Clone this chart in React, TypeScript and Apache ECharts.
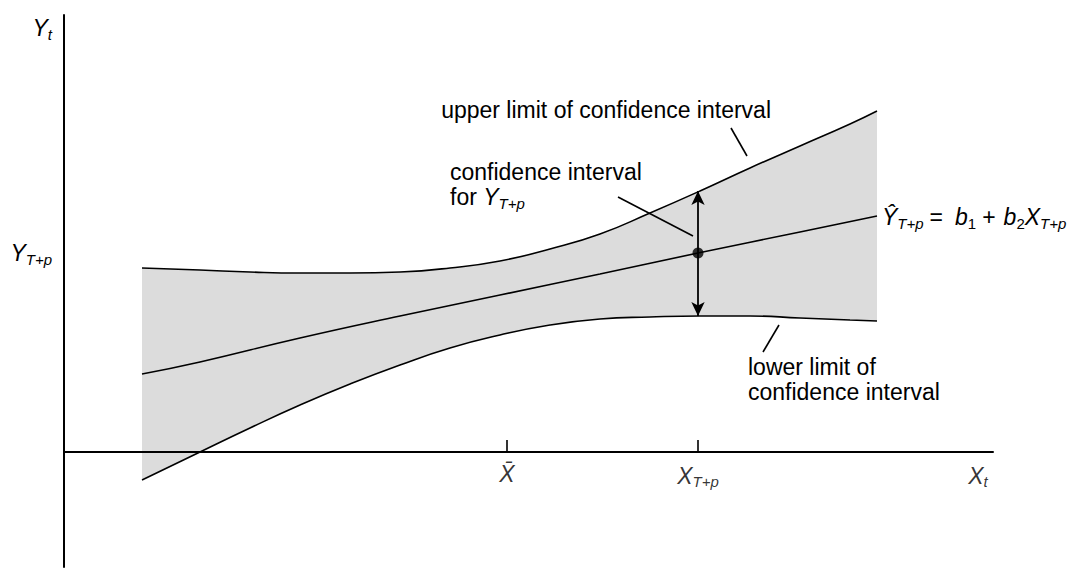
import React, { useEffect, useRef } from "react";
import * as echarts from "echarts";

// Curve values (x, y)
const bandX = [78, 136, 186, 236, 286, 336, 386, 436, 486, 536, 586, 636, 686, 736, 786, 813];
const upperY = [184, 182, 180, 179, 179, 180, 184, 191, 203, 218, 239, 261, 284, 306, 328, 341];
const lowerY = [-28, 0, 24, 47, 68, 87, 104, 117, 127, 133, 135, 136, 136, 134, 132, 131];
const centerX = [78, 136, 236, 336, 436, 536, 634, 736, 813];
const centerY = [78, 90, 114, 136, 157, 178, 199, 220, 236];

const forecastPoint = [634, 199];
const intervalTop = 261;
const intervalBottom = 136;

const xTickValues = [443, 634];
const xLabelValues = [443, 634, 914];
const xLabelTexts = ["{v|X̄}", "{v|X}{s|T+p}", "{v|X}{s|t}"];
const yLabelValues = [199, 424];
const yLabelTexts = ["{v|Y}{s|T+p}", "{v|Y}{s|t}"];

const pointerUpper = [[667, 324], [683, 296]];
const pointerInterval = [[554, 255], [629, 216]];
const pointerLower = [[715, 127], [699, 100]];

const FONT = '"Liberation Sans", Arial, Helvetica, sans-serif';
const FS = 23;
const SUB = 15;

const richStyles = {
  v: { fontFamily: FONT, fontStyle: "italic", fontSize: FS, color: "#000" },
  s: { fontFamily: FONT, fontStyle: "italic", fontSize: SUB, color: "#000", padding: [12, 0, 0, 0] },
  sn: { fontFamily: FONT, fontSize: SUB, color: "#000", padding: [12, 0, 0, 0] },
  n: { fontFamily: FONT, fontSize: FS, color: "#000" },
  eq: { fontFamily: FONT, fontSize: FS, color: "#000", padding: [0, 12, 0, 6] },
  pl: { fontFamily: FONT, fontSize: FS, color: "#000", padding: [0, 8, 0, 6] },
};

export default function App() {
  const ref = useRef<HTMLDivElement>(null);
  useEffect(() => {
    if (!ref.current) return;
    const chart = echarts.init(ref.current, null, { renderer: "svg" });
    const pairs = (xs: number[], ys: number[]) => xs.map((x, i) => [x, ys[i]]);
    const blackLine = { color: "#000", width: 1.6 };
    const textEl = (x: number, y: number, style: any) => ({
      type: "text",
      x,
      y,
      z: 100,
      style: { font: `${FS}px ${FONT}`, textAlign: "left", textVerticalAlign: "middle", fill: "#000", ...style },
    });
    const option: any = {
      animation: false,
      grid: { left: 64, right: 75, top: 15, bottom: 2, containLabel: false, outerBoundsMode: "none" },
      xAxis: {
        type: "value",
        min: 0,
        max: 929,
        z: 5,
        axisLine: { onZero: true, lineStyle: { color: "#000", width: 2 } },
        axisTick: { show: true, inside: true, length: 12, customValues: xTickValues, lineStyle: { color: "#000", width: 1.6 } },
        axisLabel: { show: false },
        splitLine: { show: false },
      },
      yAxis: {
        type: "value",
        min: -115,
        max: 437,
        z: 5,
        axisLine: { show: true, onZero: false, lineStyle: { color: "#000", width: 2 } },
        axisTick: { show: false },
        axisLabel: {
          customValues: yLabelValues,
          margin: 12,
          formatter: (v: number) => yLabelTexts[yLabelValues.indexOf(v)] || "",
          rich: richStyles,
        },
        splitLine: { show: false },
      },
      series: [
        {
          type: "line",
          data: pairs(bandX, upperY),
          smooth: true,
          symbol: "none",
          lineStyle: { opacity: 0 },
          areaStyle: { color: "#dcdcdc", opacity: 1, origin: "start" },
          silent: true,
        },
        {
          type: "line",
          data: pairs(bandX, lowerY),
          smooth: true,
          symbol: "none",
          lineStyle: { opacity: 0 },
          areaStyle: { color: "#ffffff", opacity: 1, origin: "start" },
          silent: true,
        },
        {
          type: "line",
          data: pairs(bandX, upperY),
          smooth: true,
          symbol: "none",
          lineStyle: blackLine,
          silent: true,
          markLine: {
            silent: true,
            symbol: ["none", "none"],
            label: { show: false },
            lineStyle: { color: "#000", width: 1.6, type: "solid" },
            data: [
              [{ coord: pointerUpper[0] }, { coord: pointerUpper[1] }],
              [{ coord: pointerInterval[0] }, { coord: pointerInterval[1] }],
              [{ coord: pointerLower[0] }, { coord: pointerLower[1] }],
            ],
          },
        },
        {
          type: "line",
          data: pairs(centerX, centerY),
          smooth: true,
          symbol: "none",
          lineStyle: blackLine,
          silent: true,
          markLine: {
            silent: true,
            symbol: ["arrow", "arrow"],
            symbolSize: [10, 14],
            label: { show: false },
            lineStyle: { color: "#000", width: 1.8, type: "solid" },
            data: [[{ coord: [forecastPoint[0], intervalTop] }, { coord: [forecastPoint[0], intervalBottom] }]],
          },
        },
        {
          type: "line",
          data: pairs(bandX, lowerY),
          smooth: true,
          symbol: "none",
          lineStyle: blackLine,
          silent: true,
        },
        {
          type: "scatter",
          data: [forecastPoint],
          symbolSize: 11,
          itemStyle: { color: "#000" },
          silent: true,
          z: 6,
        },
        {
          type: "scatter",
          data: xLabelValues.map((x) => [x, 0]),
          symbolSize: 0,
          silent: true,
          z: 6,
          label: {
            show: true,
            position: "bottom",
            distance: 10,
            formatter: (p: any) => xLabelTexts[p.dataIndex],
            rich: richStyles,
          },
        },
      ],
      graphic: [
        textEl(771, 110, { text: "upper limit of confidence interval", textAlign: "right" }),
        textEl(450, 172, { text: "confidence interval" }),
        textEl(450, 197, { text: "{n|for }{v|Y}{s|T+p}", rich: richStyles }),
        textEl(882, 217, { text: "{v|Ŷ}{s|T+p}{eq|=}{v|b}{sn|1}{pl|+}{v|b}{sn|2}{v|X}{s|T+p}", rich: richStyles }),
        textEl(748, 367, { text: "lower limit of" }),
        textEl(748, 392, { text: "confidence interval" }),
      ],
    };
    chart.setOption(option);
    return () => chart.dispose();
  }, []);
  return <div ref={ref} style={{ position: "fixed", left: 0, top: 0, width: 1068, height: 569, background: "#fff" }} />;
}
